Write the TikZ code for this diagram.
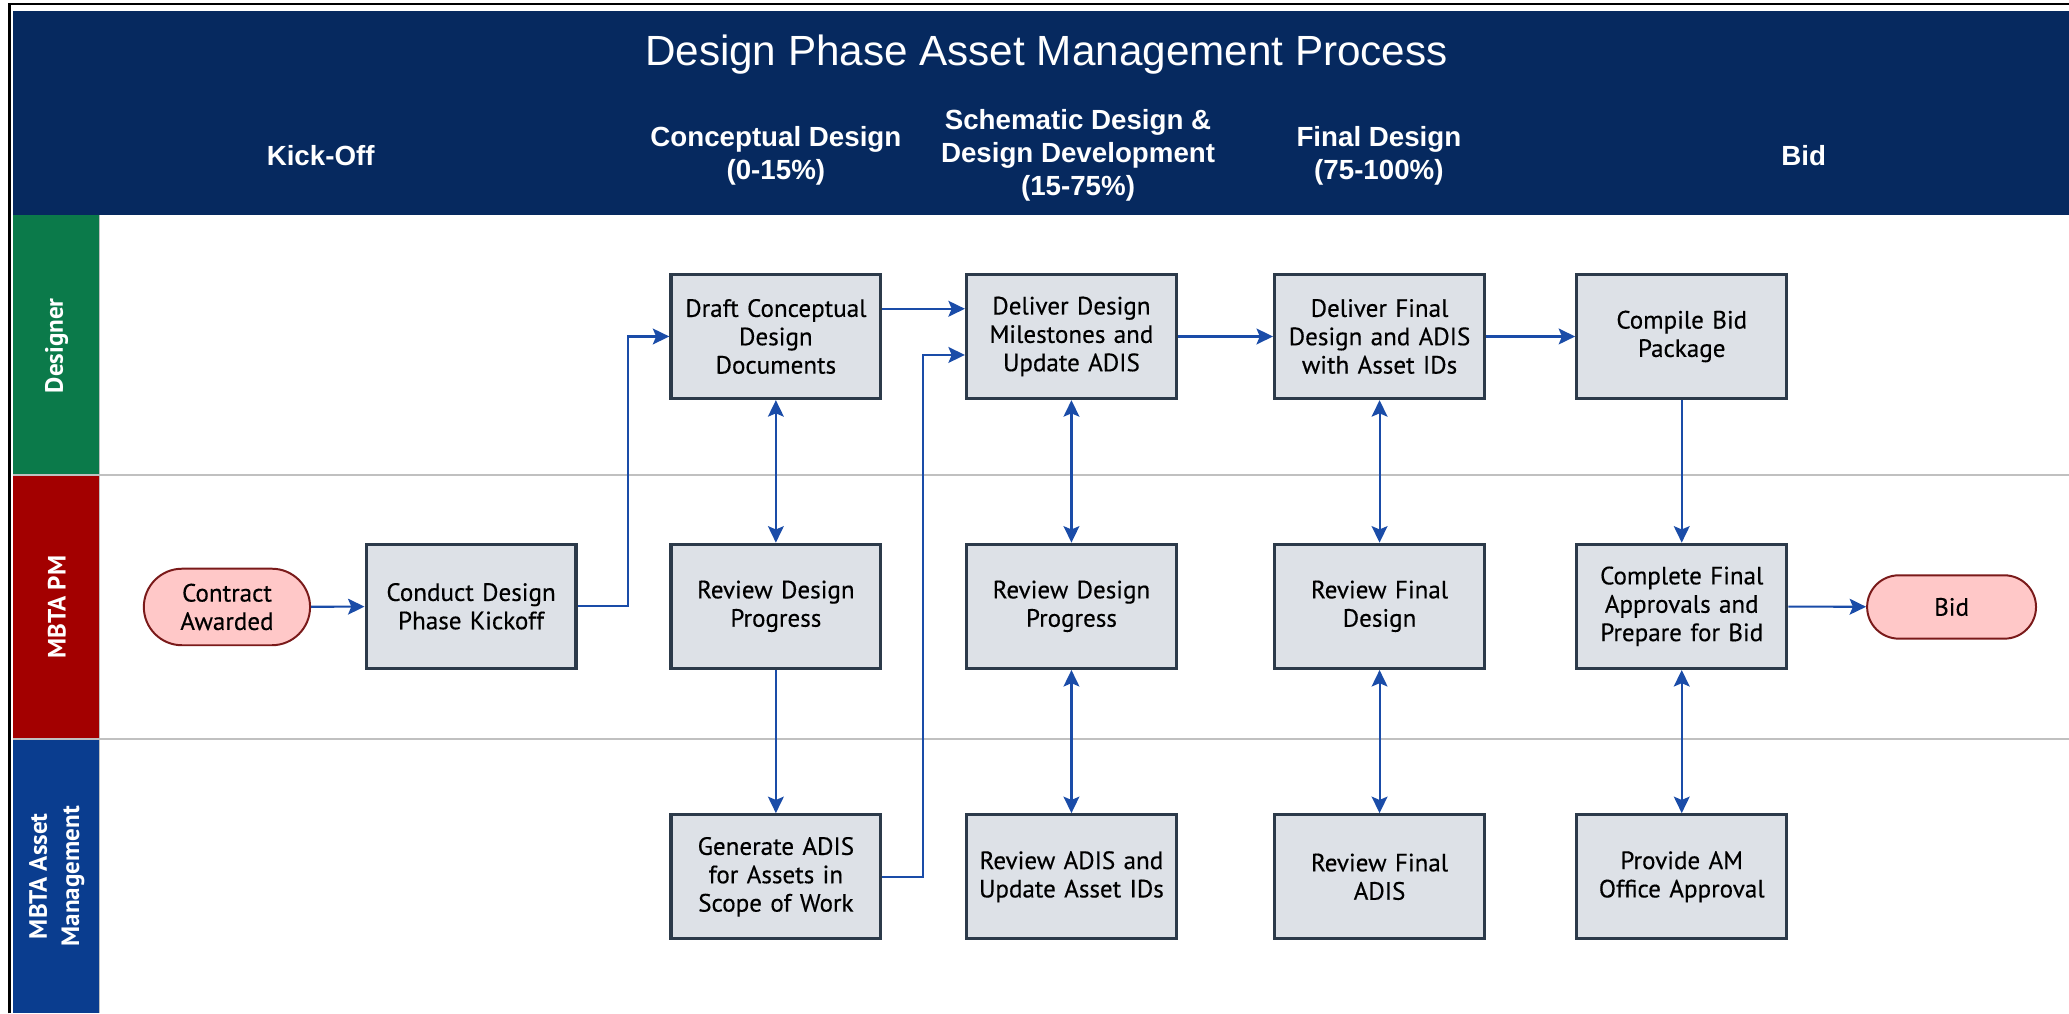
\documentclass[tikz,border=0pt]{standalone}
\usepackage{fontspec}
\setmainfont{PT Sans}
\newfontfamily\boxfont{PT Sans}[FakeBold=0.35]
\newfontfamily\hdrfont{Liberation Sans}
\usetikzlibrary{arrows.meta,shapes.misc}
\definecolor{hdrnavy}{HTML}{06295F}
\definecolor{lanegreen}{HTML}{0B7A4A}
\definecolor{lanered}{HTML}{A30000}
\definecolor{laneblue}{HTML}{0A3D8F}
\definecolor{boxfill}{HTML}{DDE1E7}
\definecolor{boxborder}{HTML}{2C3A4A}
\definecolor{arrblue}{HTML}{1A4CA8}
\definecolor{termfill}{HTML}{FFC8C8}
\definecolor{termborder}{HTML}{7A1A1A}
\definecolor{sepgray}{HTML}{C0C0C0}
\begin{document}
\begin{tikzpicture}[x=1pt,y=-1pt,
  proc/.style={draw=boxborder, fill=boxfill, line width=2.5pt, minimum width=159pt,
    minimum height=94pt, align=center, text width=154pt, inner sep=2pt,
    font=\boxfont\fontsize{19}{21.5}\selectfont},
  term/.style={rounded rectangle, draw=termborder, fill=termfill, line width=1.5pt,
    align=center, inner sep=1pt, font=\boxfont\fontsize{19}{21.5}\selectfont},
  tip/.tip={Stealth[length=12.5pt,width=12pt,inset=2.5pt]},
  arr/.style={draw=arrblue, line width=1.6pt, -tip},
  darr/.style={draw=arrblue, line width=1.6pt, tip-tip},
  hdr/.style={text=white, align=center, font=\hdrfont\bfseries\fontsize{21}{25}\selectfont},
  lanelbl/.style={text=white, align=center, rotate=90, font=\bfseries\fontsize{19}{24.5}\selectfont},
]
\useasboundingbox (0,0) rectangle (1568,768);
\fill[white] (0,0) rectangle (1568,768);
% frame
\draw[black, line width=2pt] (7,768) -- (7,3) -- (1568,3);
% header band
\fill[hdrnavy] (10,8) rectangle (1568,163);
\node[text=white, font=\hdrfont\fontsize{32}{38}\selectfont] (title) at (793,41) {Design Phase Asset Management Process};
\node[hdr] (hko) at (243,118) {Kick-Off};
\node[hdr] (hcd) at (588,118) {Conceptual Design\\(0-15\%)};
\node[hdr] (hsd) at (817,118) {Schematic Design \&\\Design Development\\(15-75\%)};
\node[hdr] (hfd) at (1045,118) {Final Design\\(75-100\%)};
\node[hdr] (hbid) at (1367,118) {Bid};
% lanes
\fill[lanegreen] (10,163) rectangle (75,359);
\fill[lanered] (10,361) rectangle (75,559);
\fill[laneblue] (10,561) rectangle (75,768);
\draw[sepgray, line width=1.5pt] (10,360) -- (1568,360);
\draw[sepgray, line width=1.5pt] (10,560) -- (1568,560);
\draw[sepgray, line width=0.8pt] (75.5,163) -- (75.5,768);
\node[lanelbl] (ldes) at (43,262) {Designer};
\node[lanelbl] (lpm) at (43,460) {MBTA PM};
\node[lanelbl] (lam) at (43,664) {MBTA Asset\\Management};
% terminators
\node[term, minimum width=128pt, minimum height=58pt] (award) at (172,460) {Contract\\Awarded};
\node[term, minimum width=130pt, minimum height=48pt] (bid) at (1479,460) {Bid};
% process boxes
\node[proc] (kick) at (357,459.5) {Conduct Design\\Phase Kickoff};
\node[proc] (draft) at (588,255) {Draft Conceptual\\Design\\Documents};
\node[proc] (deliv) at (812,255) {Deliver Design\\Milestones and\\Update ADIS};
\node[proc] (dfinal) at (1045.5,255) {Deliver Final\\Design and ADIS\\with Asset IDs};
\node[proc] (compile) at (1274.5,255) {Compile Bid\\Package};
\node[proc] (rev1) at (588,459.5) {Review Design\\Progress};
\node[proc] (rev2) at (812,459.5) {Review Design\\Progress};
\node[proc] (revf) at (1045.5,459.5) {Review Final\\Design};
\node[proc] (compl) at (1274.5,459.5) {Complete Final\\Approvals and\\Prepare for Bid};
\node[proc] (gen) at (588,664.5) {Generate ADIS\\for Assets in\\Scope of Work};
\node[proc] (revadis) at (812,664.5) {Review ADIS and\\Update Asset IDs};
\node[proc] (revfadis) at (1045.5,664.5) {Review Final\\ADIS};
\node[proc] (amapp) at (1274.5,664.5) {Provide AM\\Office Approval};
% connectors
\draw[arr] (award) -- (kick);
\draw[arr] (kick.east) -- ++(38,0) |- (draft.west);
\draw[arr] ([yshift=21pt]draft.east) -- ([yshift=21pt]deliv.west);
\draw[arr] (gen.east) -- ++(31,0) |- ([yshift=-14pt]deliv.west);
\draw[arr] (deliv) -- (dfinal);
\draw[arr] (dfinal) -- (compile);
\draw[darr] (draft) -- (rev1);
\draw[darr] (deliv) -- (rev2);
\draw[darr] (dfinal) -- (revf);
\draw[arr] (compile) -- (compl);
\draw[arr] (rev1) -- (gen);
\draw[darr] (rev2) -- (revadis);
\draw[darr] (revf) -- (revfadis);
\draw[darr] (compl) -- (amapp);
\draw[arr] (compl) -- (bid);
\end{tikzpicture}
\end{document}
